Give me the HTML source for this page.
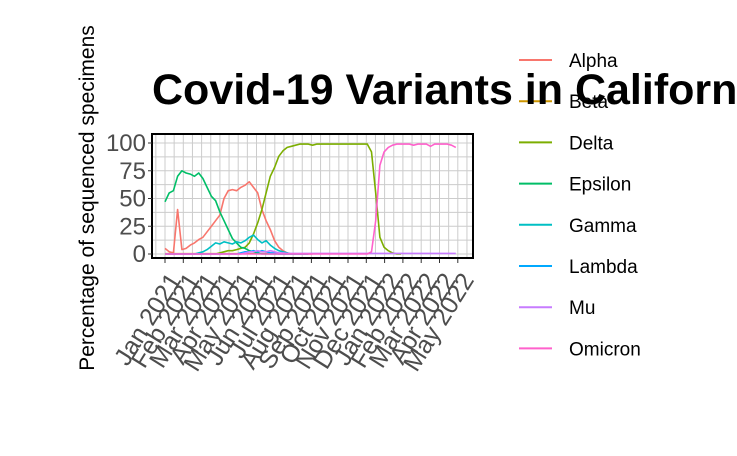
<!DOCTYPE html>
<html><head><meta charset="utf-8"><style>
html,body{margin:0;padding:0;background:#fff;overflow:hidden}
svg{display:block;font-family:"Liberation Sans",Arial,sans-serif}
</style></head><body>
<svg id="chart" width="737" height="456" viewBox="0 0 737 456">
<g id="grid"></g>
<g id="series"></g>
<rect x="152" y="134" width="321" height="124" fill="none" stroke="#000" stroke-width="2"/>
<g id="yticks"></g>
<g id="xticks"></g>
<text transform="translate(94,198) rotate(-90)" text-anchor="middle" font-size="21" fill="#000">Percentage of sequenced specimens</text>
<g id="legend"></g>
<text x="152" y="104" font-size="43" font-weight="bold" fill="#000">Covid-19 Variants in California</text>
</svg>
<script>
const variants=["Alpha","Beta","Delta","Epsilon","Gamma","Lambda","Mu","Omicron"];
const colors=["#F8766D","#CD9600","#7CAE00","#00BE67","#00BFC4","#00A9FF","#C77CFF","#FF61CC"];
const monthLabels=["Jan 2021","Feb 2021","Mar 2021","Apr 2021","May 2021","Jun 2021","Jul 2021","Aug 2021","Sep 2021","Oct 2021","Nov 2021","Dec 2021","Jan 2022","Feb 2022","Mar 2022","Apr 2022","May 2022"];
const yTicks=[0,25,50,75,100];
// weekly values, week 0 = first week of Jan 2021
const alpha=[5,2,1,40,4,5,8,10,13,15,20,25,30,35,50,57,58,57,60,62,65,60,55,40,30,22,12,6,3,1,0,0,0,0,0,0];
const beta=[0.3,0.3,0.3,0.3,0.3,0.3,0.3,0.3,0.3,0.3,0.3,0.3,0.3,0.3,0.3,0.3,0.3,0.3,0.3,0.3,0.3,0.3,0.3,0.3,0.3,0.3,0.3,0.3,0.3,0.3];
const delta=[0,0,0,0,0,0,0,0,0,0,0,0,0,1,2,3,3,4,5,6,10,18,28,40,55,70,78,88,93,96,97,98,99,99,99,98,99,99,99,99,99,99,99,99,99,99,99,99,99,92,55,15,6,3,1,0,0];
const epsilon=[47,55,57,70,75,73,72,70,73,68,60,52,48,38,30,22,14,10,6,5,3,2,1,0,0,0,0,0,0,0,0];
const gamma=[0,0,0,0,0,0,0,0,1,2,4,7,10,9,11,10,9,11,10,12,15,17,13,10,12,8,5,3,2,1,0,0,0,0,0];
const lambda=[0,0,0,0,0,0,0,0,0,0,0,0,0,0,0,0,0,0,1,2,2,3,2,3,2,1,1,0,0,0,0,0,0,0,0];
const mu=[0,0,0,0,0,0,0,0,0,0,0,0,0,0,0,0,0,0,0,1,2,2,3,2,2,3,2,1,1,0.5,0.5,0.5,0.5,0.5,0.5,0.5,0.5,0.5,0.5,0.5,0.5,0.5,0.5,0.5,0.5,0.5,0.5,0.5,0.5,0.5,0.5,0.5,0.5,0.5,0.5,0.5,0.5,0.5,0.5,0.5,0.5,0.5,0.5,0.5,0.5,0.5,0.5,0.5,0.5,0.5];
const omicron=[0,0,0,0,0,0,0,0,0,0,0,0,0,0,0,0,0,0,0,0,0,0,0,0,0,0,0,0,0,0,0,0,0,0,0,0,0,0,0,0,0,0,0,0,0,0,0,0,0,2,30,80,92,96,98,99,99,99,99,98,99,99,99,97,99,99,99,99,98,96];
const seriesData=[alpha,beta,delta,epsilon,gamma,lambda,mu,omicron];

const NS="http://www.w3.org/2000/svg";
function mk(t,a,p){const e=document.createElementNS(NS,t);for(const k in a)e.setAttribute(k,a[k]);p.appendChild(e);return e;}
const x0=165, monthW=18.3;
const xWeek=w=>x0+w*7*monthW/30.4;
const xMonth=m=>x0+m*monthW;
const y=v=>254-v*1.11;
const grid=document.getElementById('grid');
for(let v=0;v<=100;v+=12.5){const l=mk('line',{x1:152,x2:473,y1:y(v),y2:y(v),stroke:'#cccccc','stroke-width':1},grid);

}
for(let m=-0.5;m<=17;m+=0.5){const xx=xMonth(m);if(xx<152||xx>473)continue;const l=mk('line',{x1:xx,x2:xx,y1:134,y2:258,stroke:'#cccccc','stroke-width':1},grid);

}
const sg=document.getElementById('series');
seriesData.forEach((arr,i)=>{
 const pts=arr.map((v,w)=>xWeek(w).toFixed(1)+','+y(v).toFixed(1)).join(' ');
 const p=mk('polyline',{points:pts,fill:'none',stroke:colors[i],'stroke-width':1.6,'stroke-linejoin':'round'},sg);
 
 
});
const yt=document.getElementById('yticks');
yTicks.forEach(v=>{const t=mk('text',{x:146,y:y(v)+8,'text-anchor':'end','font-size':24,fill:'#4d4d4d'},yt);t.textContent=v;


const k=mk('line',{x1:148,x2:152,y1:y(v),y2:y(v),stroke:'#333'},yt);

});
const xt=document.getElementById('xticks');
monthLabels.forEach((lab,m)=>{const xx=xMonth(m);
const k=mk('line',{x1:xx,x2:xx,y1:259,y2:263,stroke:'#333'},xt);


const t=mk('text',{transform:`translate(${xx+17},${280}) rotate(-58)`,'text-anchor':'end','font-size':25,fill:'#4d4d4d'},xt);t.textContent=lab;

});
const lg=document.getElementById('legend');
variants.forEach((n,i)=>{const yy=60+i*41.2;
const l=mk('line',{x1:519,x2:552,y1:yy,y2:yy,stroke:colors[i],'stroke-width':2},lg);


const t=mk('text',{x:569,y:yy+7,'font-size':19,fill:'#000'},lg);t.textContent=n;

});
</script>
</body></html>
